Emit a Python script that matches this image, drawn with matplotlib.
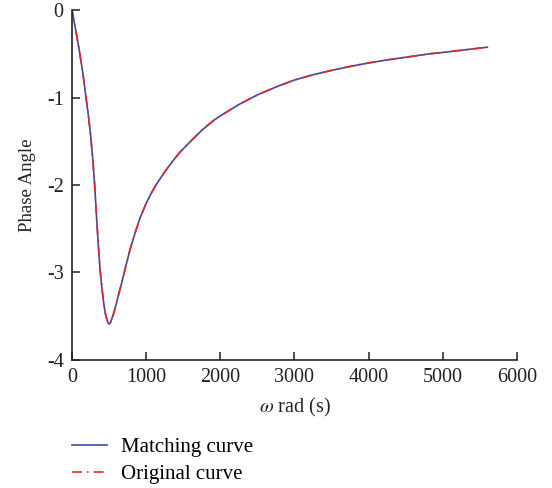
import numpy as np
import matplotlib.pyplot as plt

plt.rcParams['font.family'] = ['Liberation Serif', 'DejaVu Serif']
plt.rcParams['mathtext.fontset'] = 'stix'
plt.rcParams['axes.unicode_minus'] = False

# values
omega = [0, 50, 98, 150, 189, 220, 250, 280, 306, 330, 355, 377, 400, 422,
         440, 458, 480, 499, 520, 549, 575, 600, 635, 670, 725, 782, 850,
         916, 1000, 1065, 1132, 1250, 1365, 1456, 1600, 1750, 1905, 2000,
         2250, 2500, 2750, 3000, 3250, 3500, 3750, 4000, 4250, 4500, 4826,
         5000, 5300, 5600]
matching = [0, -0.23, -0.457, -0.74, -1.0, -1.2, -1.42, -1.7, -2.0, -2.35,
            -2.68, -2.95, -3.15, -3.31, -3.42, -3.5, -3.56, -3.59, -3.57,
            -3.5, -3.43, -3.35, -3.23, -3.12, -2.93, -2.74, -2.55, -2.38,
            -2.21, -2.1, -2.0, -1.85, -1.72, -1.625, -1.5, -1.375, -1.265,
            -1.21, -1.08, -0.97, -0.88, -0.8, -0.74, -0.69, -0.645, -0.605,
            -0.57, -0.54, -0.5, -0.485, -0.455, -0.425]
original = list(matching)

fig = plt.figure(figsize=(5.52, 4.88), dpi=100)
ax = fig.add_axes([0.1304, 0.2623, 0.8062, 0.7172])

ax.plot(omega, matching, color='#3a4aa8', lw=1.2, label='Matching curve')
ax.plot(omega, original, color='#e3262e', lw=1.2, ls='-.', dashes=(6, 3, 1, 3),
        label='Original curve')

ax.set_xlim(0, 6000)
ax.set_ylim(-4, 0)
ax.set_xticks([0, 1000, 2000, 3000, 4000, 5000, 6000])
ax.set_yticks([0, -1, -2, -3, -4])
ax.spines['top'].set_visible(False)
ax.spines['right'].set_visible(False)
for s in ['left', 'bottom']:
    ax.spines[s].set_linewidth(1.2)
    ax.spines[s].set_color('#222222')
ax.tick_params(direction='in', length=6, width=1.1, labelsize=14.5,
               colors='#222222', pad=6)

ax.set_xlabel(r'$\omega$ rad (s)', fontsize=14.5, color='#222222', labelpad=6)
ax.set_ylabel('Phase Angle', fontsize=13.5, color='#222222', labelpad=8)

fig.legend(loc='upper left', bbox_to_anchor=(0.0965, 0.142), frameon=False,
           fontsize=15, handlelength=1.68, handletextpad=0.67,
           labelspacing=0.35)

fig.savefig('out.png', dpi=100)
